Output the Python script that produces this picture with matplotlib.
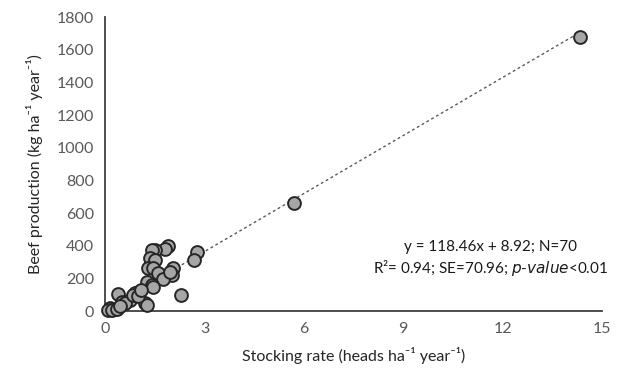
import matplotlib
matplotlib.use("Agg")
import matplotlib.pyplot as plt
import numpy as np

plt.rcParams['font.family'] = ['Lato', 'DejaVu Sans']

stocking_rate = [1.89, 1.80, 1.50, 1.41, 1.35, 1.50, 1.29, 1.44, 1.59, 2.04,
                 2.01, 1.74, 1.26, 1.41, 1.44, 0.99, 0.90, 0.39, 0.75, 0.51,
                 1.20, 1.26, 0.15, 0.30, 2.79, 2.70, 2.28, 0.10, 0.20, 0.35,
                 0.60, 0.85, 1.95, 1.00, 1.10, 0.45, 5.70, 14.35]
beef_production = [398, 380, 374, 374, 325, 312, 263, 263, 233, 263,
                   220, 196, 178, 159, 147, 116, 110, 104, 67, 55,
                   49, 37, 18, 12, 361, 312, 98, 5, 8, 10,
                   50, 100, 240, 90, 130, 30, 661, 1678]

slope, intercept = 118.46, 8.92
x_ticks = [0, 3, 6, 9, 12, 15]
y_ticks = [0, 200, 400, 600, 800, 1000, 1200, 1400, 1600, 1800]

fig = plt.figure(figsize=(6.18, 3.73), dpi=100)
ax = fig.add_axes([0.17, 0.166, 0.804, 0.788])

xs = np.array([0.0, max(stocking_rate)])
ax.plot(xs, slope * xs + intercept, linestyle=(0, (2, 2)), color='#595959', lw=1.0, zorder=1)
ax.scatter(stocking_rate, beef_production, s=85, facecolor='#a6a6a6',
           edgecolor='#262626', linewidth=1.4, zorder=3, clip_on=False)

ax.set_xlim(0, 15)
ax.set_ylim(0, 1800)
ax.set_xticks(x_ticks)
ax.set_yticks(y_ticks)
ax.tick_params(length=0, labelsize=11.5, labelcolor='#595959', pad=8)
for s in ['top', 'right']:
    ax.spines[s].set_visible(False)
for s in ['left', 'bottom']:
    ax.spines[s].set_color('#404040')
    ax.spines[s].set_linewidth(1.3)

ax.set_xlabel('Stocking rate (heads ha\u207b\u00b9 year\u207b\u00b9)', fontsize=11.5, color='#262626', labelpad=8)
ax.set_ylabel('Beef production (kg ha\u207b\u00b9 year\u207b\u00b9)', fontsize=11.5, color='#262626', labelpad=10)

ax.text(11.65, 390, 'y = 118.46x + 8.92; N=70', ha='center', va='center', fontsize=11, color='#1a1a1a')
ax.text(11.65, 262, 'R\u00b2= 0.94; SE=70.96; $\\it{p}$-$\\it{value}$<0.01', ha='center', va='center',
        fontsize=11, color='#1a1a1a')

fig.savefig('out.png', dpi=100)
